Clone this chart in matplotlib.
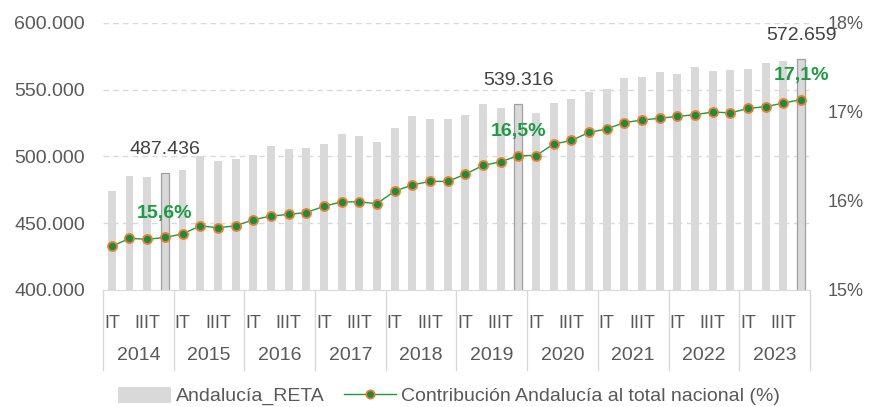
import numpy as np
import matplotlib
matplotlib.use("Agg")
import matplotlib.pyplot as plt
from matplotlib.ticker import FuncFormatter
from matplotlib.lines import Line2D
from matplotlib.patches import Patch
import matplotlib.transforms as mtransforms

# datos (trimestres 2014-2023)
years = ["2014", "2015", "2016", "2017", "2018", "2019", "2020", "2021", "2022", "2023"]
quarter_labels = ["IT", "IIIT"]

reta = [474.5, 485.7, 485.0, 487.436,
        490.0, 500.5, 496.8, 498.0,
        501.0, 508.0, 505.8, 506.7,
        509.5, 517.0, 515.0, 511.0,
        521.5, 530.0, 528.0, 528.0,
        531.0, 539.0, 536.5, 539.316,
        532.7, 540.0, 543.0, 548.5,
        550.5, 559.0, 559.7, 563.0,
        562.0, 566.7, 564.0, 565.0,
        565.5, 569.7, 571.7, 572.659]

contrib = [15.49, 15.58, 15.57, 15.59,
           15.63, 15.72, 15.70, 15.72,
           15.79, 15.83, 15.85, 15.87,
           15.94, 15.99, 15.99, 15.97,
           16.11, 16.18, 16.22, 16.22,
           16.30, 16.40, 16.44, 16.51,
           16.51, 16.64, 16.68, 16.77,
           16.81, 16.88, 16.91, 16.93,
           16.95, 16.97, 17.00, 16.99,
           17.04, 17.06, 17.10, 17.14]

highlight = [3, 23, 39]  # IVT 2014, 2019, 2023
bar_labels = ["487.436", "539.316", "572.659"]
pct_labels = ["15,6%", "16,5%", "17,1%"]

plt.rcParams["font.family"] = ["Liberation Sans", "DejaVu Sans"]
plt.rcParams["font.size"] = 14

gris_txt = "#595959"
verde = "#1e9a44"
naranja = "#ed7d31"

fig = plt.figure(figsize=(8.69, 4.07), dpi=100)
ax = fig.add_axes([0.1185, 0.2875, 0.8135, 0.656])
ax2 = ax.twinx()

x = np.arange(len(reta))
ax.bar(x, reta, width=0.45, color="#d9d9d9", zorder=2)
for i in highlight:
    ax.bar(x[i], reta[i], width=0.45, color="#d9d9d9", edgecolor="#a0a0a0", linewidth=0.9, zorder=3)

ax.set_ylim(400, 600)
ax.set_xlim(-0.5, len(reta) - 0.5)
ax.set_yticks([400, 450, 500, 550, 600])
ax.yaxis.set_major_formatter(FuncFormatter(lambda v, _: "{:.0f}.000".format(v)))
for y in [450, 500, 550, 600]:
    ax.axhline(y, color="#d9d9d9", lw=1.0, ls=(0, (4, 3)), zorder=1)

for s in ["left", "right", "top"]:
    ax.spines[s].set_visible(False)
    ax2.spines[s].set_visible(False)
ax.spines["bottom"].set_color("#d9d9d9")
ax2.spines["bottom"].set_visible(False)
ax.tick_params(axis="y", length=0, pad=13, colors=gris_txt, labelsize=14)

# etiquetas de trimestre: IT y IIIT en cada año
qpos = [4 * k + q for k in range(len(years)) for q in (0, 2)]
qlab = [quarter_labels[j] for k in range(len(years)) for j in (0, 1)]
ax.set_xticks(qpos)
ax.set_xticklabels(qlab)
ax.tick_params(axis="x", length=0, pad=18, colors=gris_txt, labelsize=13)

# eje secundario
ax2.plot(x, contrib, color=verde, lw=1.0, marker="o", markersize=6.5,
         markerfacecolor="#1a8c3c", markeredgecolor=naranja, markeredgewidth=1.3, zorder=5)
ax2.set_ylim(15, 18)
ax2.set_yticks([15, 16, 17, 18])
ax2.yaxis.set_major_formatter(FuncFormatter(lambda v, _: "{:.0f}%".format(v)))
ax2.tick_params(axis="y", length=0, pad=13, colors=gris_txt, labelsize=13)
ax.set_zorder(1)
ax2.set_zorder(2)
ax.patch.set_visible(False)

# etiquetas de datos
for i, lab in zip(highlight, bar_labels):
    ax.annotate(lab, (x[i], reta[i]), xytext=(0, 11), textcoords="offset points",
                ha="center", va="bottom", color="#404040", fontsize=14)
for i, lab in zip(highlight, pct_labels):
    ax2.annotate(lab, (x[i], contrib[i]), xytext=(0, 11), textcoords="offset points",
                 ha="center", va="bottom", color=verde, fontsize=14, fontweight="bold")

# años y separadores
trans = mtransforms.blended_transform_factory(ax.transData, ax.transAxes)
for k, yr in enumerate(years):
    ax.text(4 * k + 1.5, -0.245, yr, transform=trans, ha="center", va="center",
            color=gris_txt, fontsize=14)
for k in range(len(years) + 1):
    ax.plot([4 * k - 0.5, 4 * k - 0.5], [0, -0.3], transform=trans, color="#d9d9d9",
            lw=1.0, clip_on=False)

handles = [Patch(facecolor="#d9d9d9", edgecolor="none"),
           Line2D([0], [0], color=verde, lw=1.0, marker="o", markersize=6,
                  markerfacecolor="#1a8c3c", markeredgecolor=naranja, markeredgewidth=1.2)]
fig.legend(handles, ["Andalucía_RETA", "Contribución Andalucía al total nacional (%)"],
           loc="center", bbox_to_anchor=(0.517, 0.027), ncol=2, frameon=False,
           fontsize=14, labelcolor=gris_txt, handlelength=2.7, handletextpad=0.25,
           columnspacing=1.0, handleheight=0.9)

fig.savefig("out.png", dpi=100)
